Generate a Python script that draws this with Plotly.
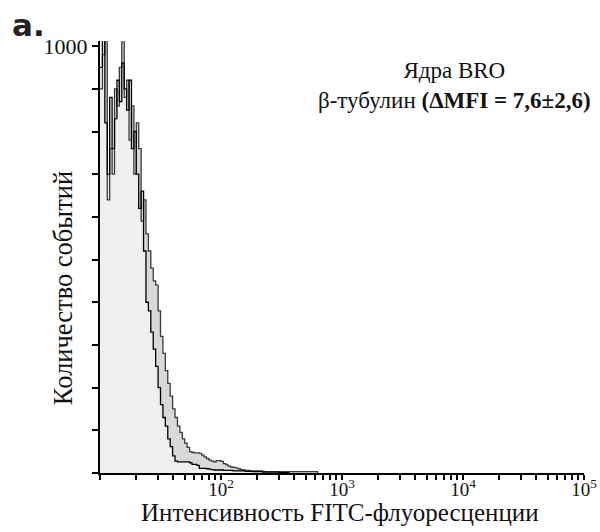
import plotly.graph_objects as go

# Flow cytometry histogram channels: 0.02 decade per channel, starting at 10^1
channel_step_decades = 0.02
first_decade = 1.0

# Counts per channel
control_counts = [950, 1040, 820, 700, 880, 760, 830, 920, 870, 960,
                  900, 850, 920, 760, 800, 700, 620, 660, 520, 400,
                  380, 330, 290, 250, 200, 160, 130, 110, 80, 62,
                  40, 28, 26, 26, 26, 26, 26, 24, 20, 20,
                  18, 11, 11, 11, 10, 9, 8, 7, 7, 7,
                  7, 6, 6, 6, 6, 5, 5, 5, 5, 5,
                  4, 4, 4, 3, 3, 3, 3, 2, 2, 2,
                  2, 2, 2, 2, 1, 1, 1, 1]
sample_counts = [900, 980, 1020, 640, 760, 700, 900, 860, 950, 1030,
                 880, 920, 780, 860, 700, 820, 760, 590, 640, 560,
                 520, 480, 450, 440, 380, 320, 280, 240, 210, 180,
                 150, 130, 110, 95, 80, 70, 60, 50, 48, 47,
                 47, 46, 42, 38, 34, 30, 28, 26, 29, 29,
                 27, 22, 19, 16, 14, 13, 12, 10, 8, 7,
                 6, 6, 5, 5, 5, 5, 5, 4, 3, 3,
                 3, 3, 3, 3, 3, 3, 3, 3, 3, 3,
                 3, 3, 3, 3, 3, 3, 3, 3, 3, 3]

# Labelled ticks and unlabelled (minor) ticks
y_label_ticks = [1000]
y_label_texts = ["1000"]
y_minor_ticks = [0, 100, 200, 300, 400, 500, 600, 700, 800, 900]
x_label_ticks = [1e2, 1e3, 1e4, 1e5]
x_label_texts = ["10<sup>2</sup>", "10<sup>3</sup>", "10<sup>4</sup>", "10<sup>5</sup>"]
x_minor_ticks = [1e1] + [m * 10 ** e for e in range(1, 5) for m in range(2, 10)]


def step_xy(counts):
    n = len(counts)
    xs = [10 ** (first_decade + k * channel_step_decades) for k in range(n + 1)]
    ys = list(counts) + [0]
    return xs, ys


xs_s, ys_s = step_xy(sample_counts)
xs_c, ys_c = step_xy(control_counts)

fig = go.Figure()
# fills
fig.add_trace(go.Scatter(x=xs_s, y=ys_s, mode="lines", line_shape="hv",
                         line=dict(width=0, color="rgba(0,0,0,0)"),
                         fill="tozeroy", fillcolor="#d9d9d9", hoverinfo="skip", showlegend=False))
fig.add_trace(go.Scatter(x=xs_c, y=ys_c, mode="lines", line_shape="hv",
                         line=dict(width=0, color="rgba(0,0,0,0)"),
                         fill="tozeroy", fillcolor="#efefef", hoverinfo="skip", showlegend=False))
# outlines
fig.add_trace(go.Scatter(x=xs_s, y=ys_s, mode="lines", line_shape="hv",
                         line=dict(width=1.3, color="#3a3a3a"), showlegend=False))
fig.add_trace(go.Scatter(x=xs_c, y=ys_c, mode="lines", line_shape="hv",
                         line=dict(width=1.3, color="#000000"), showlegend=False))

serif = "Liberation Serif"

fig.update_layout(
    width=600, height=532,
    margin=dict(l=100, r=16, t=41, b=59, autoexpand=False),
    paper_bgcolor="white", plot_bgcolor="white",
    font=dict(family=serif, color="#111", size=18),
    xaxis=dict(type="log", range=[1, 5], showline=True, linewidth=2, linecolor="black",
               automargin=False, ticklabelstandoff=-7,
               showgrid=False, zeroline=False, ticks="outside", ticklen=5, tickwidth=1.5,
               tickcolor="black", tickmode="array", tickvals=x_label_ticks, ticktext=x_label_texts,
               tickfont=dict(size=19, family=serif, color="#111"),
               minor=dict(tickmode="array", tickvals=x_minor_ticks, ticks="outside", ticklen=5,
                          tickwidth=1.5, tickcolor="black", showgrid=False)),
    yaxis=dict(range=[0, 1012], showline=True, linewidth=2, linecolor="black",
               automargin=False,
               showgrid=False, zeroline=False, ticks="outside", ticklen=6, tickwidth=1.5,
               tickcolor="black", tickmode="array", tickvals=y_label_ticks, ticktext=y_label_texts,
               tickfont=dict(size=22, family=serif, color="#111"),
               minor=dict(tickmode="array", tickvals=y_minor_ticks, ticks="outside", ticklen=6,
                          tickwidth=1.5, tickcolor="black", showgrid=False)),
    annotations=[
        dict(text="Количество событий", xref="paper", yref="paper", x=-0.0764, y=0.428,
             textangle=-90, showarrow=False, xanchor="center", yanchor="middle",
             font=dict(size=26.5, family=serif, color="#111")),
        dict(text="Интенсивность FITC-флуоресценции", xref="paper", yref="paper", x=0.496, y=-0.092,
             showarrow=False, xanchor="center", yanchor="middle",
             font=dict(size=25, family=serif, color="#111")),
        dict(text="Ядра BRO<br>β-тубулин <b>(ΔMFI = 7,6±2,6)</b>", xref="paper", yref="paper",
             x=0.733, y=0.898, showarrow=False, xanchor="center", yanchor="middle", align="center",
             font=dict(size=23, family=serif, color="#111")),
        dict(text="<b>а.</b>", xref="paper", yref="paper", x=-0.186, y=1.037, showarrow=False,
             xanchor="left", yanchor="middle", font=dict(size=31, family="DejaVu Sans", color="#222")),
    ],
)

fig.write_html("out.html", config={"displayModeBar": False},
               post_script="document.body.style.margin='0';")
